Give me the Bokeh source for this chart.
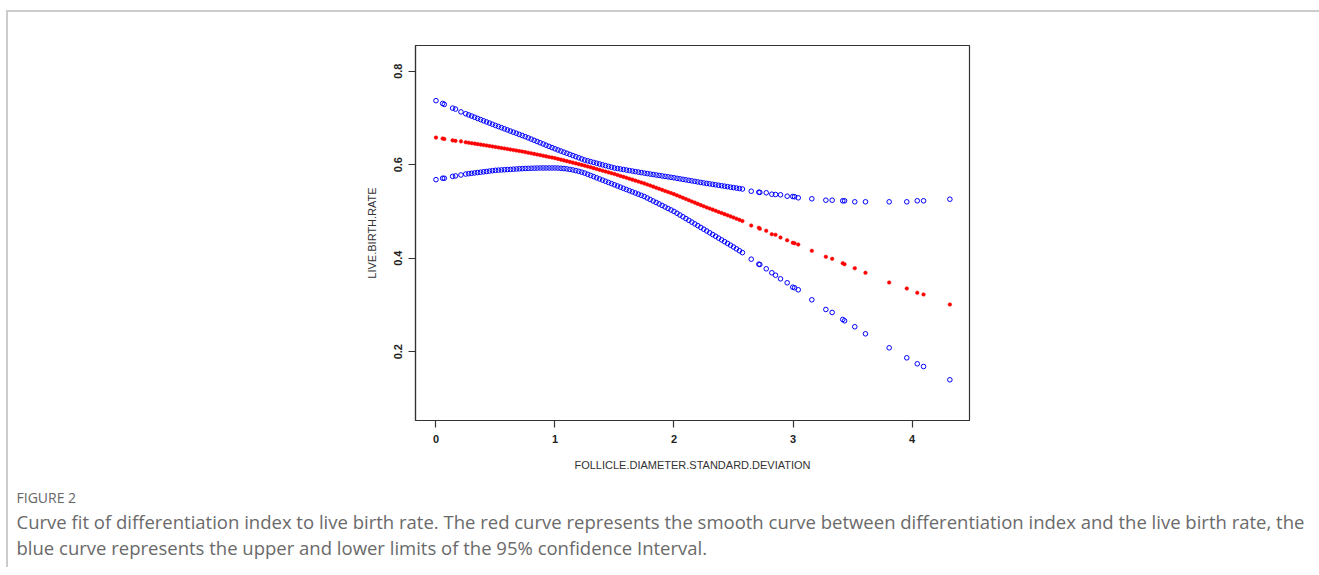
from bokeh.plotting import figure
from bokeh.models import Range1d, FixedTicker, ColumnDataSource
from bokeh.layouts import column
from bokeh.core.properties import value
from bokeh.embed import file_html
from bokeh.resources import INLINE

# ---- data ----
x_sd = [0.0, 0.056, 0.07, 0.14, 0.164, 0.21,
        0.25, 0.275, 0.3, 0.325, 0.35, 0.375, 0.4, 0.425, 0.45, 0.475,
        0.5, 0.525, 0.55, 0.575, 0.6, 0.625, 0.65, 0.675, 0.7, 0.725,
        0.75, 0.775, 0.8, 0.825, 0.85, 0.875, 0.9, 0.925, 0.95, 0.975,
        1.0, 1.025, 1.05, 1.075, 1.1, 1.125, 1.15, 1.175, 1.2, 1.225,
        1.25, 1.275, 1.3, 1.325, 1.35, 1.375, 1.4, 1.425, 1.45, 1.475,
        1.5, 1.525, 1.55, 1.575, 1.6, 1.625, 1.65, 1.675, 1.7, 1.725,
        1.75, 1.775, 1.8, 1.825, 1.85, 1.875, 1.9, 1.925, 1.95, 1.975,
        2.0, 2.025, 2.05, 2.075, 2.1, 2.125, 2.15, 2.175, 2.2, 2.225,
        2.25, 2.275, 2.3, 2.325, 2.35, 2.375, 2.4, 2.425, 2.45, 2.475,
        2.5, 2.525, 2.55, 2.575,
        2.649, 2.713, 2.721, 2.775, 2.822, 2.853, 2.895, 2.951, 2.998, 3.013,
        3.044, 3.158, 3.276, 3.329, 3.418, 3.433, 3.519, 3.609, 3.808, 3.956,
        4.044, 4.097, 4.318]

upper_ci = [0.737, 0.731, 0.729, 0.721, 0.719, 0.713,
            0.709, 0.7065, 0.704, 0.7015, 0.699, 0.6965, 0.694, 0.6915, 0.689, 0.6865,
            0.684, 0.6816, 0.6792, 0.6768, 0.6744, 0.672, 0.6696, 0.6672, 0.6648, 0.6624,
            0.660, 0.6574, 0.6548, 0.6522, 0.6496, 0.647, 0.6444, 0.6418, 0.6392, 0.6366,
            0.634, 0.6316, 0.6292, 0.6268, 0.6244, 0.622, 0.6196, 0.6172, 0.6148, 0.6124,
            0.610, 0.6083, 0.6066, 0.6049, 0.6032, 0.6015, 0.5998, 0.5981, 0.5964, 0.5947,
            0.593, 0.5919, 0.5908, 0.5897, 0.5886, 0.5875, 0.5864, 0.5853, 0.5842, 0.5831,
            0.582, 0.581, 0.580, 0.579, 0.578, 0.577, 0.576, 0.575, 0.574, 0.573,
            0.572, 0.5709, 0.5698, 0.5687, 0.5676, 0.5665, 0.5654, 0.5643, 0.5632, 0.5621,
            0.561, 0.560, 0.559, 0.558, 0.557, 0.556, 0.555, 0.554, 0.553, 0.552,
            0.551, 0.550, 0.549, 0.548,
            0.5433, 0.5412, 0.5408, 0.5399, 0.5369, 0.5363, 0.5356, 0.5326, 0.5320, 0.5315,
            0.5292, 0.5271, 0.5241, 0.5241, 0.5228, 0.5228, 0.5206, 0.5206, 0.5206, 0.5206,
            0.5228, 0.5228, 0.5262]

fit_rate = [0.658, 0.656, 0.655, 0.652, 0.651, 0.650,
            0.648, 0.647, 0.646, 0.645, 0.644, 0.643, 0.642, 0.641, 0.640, 0.639,
            0.638, 0.6369, 0.6358, 0.6347, 0.6336, 0.6325, 0.6314, 0.6303, 0.6292, 0.6281,
            0.627, 0.6257, 0.6244, 0.6231, 0.6218, 0.6205, 0.6192, 0.6179, 0.6166, 0.6153,
            0.614, 0.6124, 0.6108, 0.6092, 0.6076, 0.606, 0.6044, 0.6028, 0.6012, 0.5996,
            0.598, 0.5962, 0.5944, 0.5926, 0.5908, 0.589, 0.5872, 0.5854, 0.5836, 0.5818,
            0.580, 0.578, 0.576, 0.574, 0.572, 0.570, 0.568, 0.566, 0.564, 0.562,
            0.560, 0.5577, 0.5554, 0.5531, 0.5508, 0.5485, 0.5462, 0.5439, 0.5416, 0.5393,
            0.537, 0.5344, 0.5318, 0.5292, 0.5266, 0.524, 0.5214, 0.5188, 0.5162, 0.5136,
            0.511, 0.5086, 0.5062, 0.5038, 0.5014, 0.499, 0.4966, 0.4942, 0.4918, 0.4894,
            0.487, 0.4845, 0.482, 0.4795,
            0.4699, 0.4650, 0.4629, 0.4586, 0.4513, 0.4500, 0.4443, 0.4385, 0.4329, 0.4321,
            0.4293, 0.4158, 0.4030, 0.3987, 0.3893, 0.3872, 0.3786, 0.3688, 0.3480, 0.3352,
            0.3260, 0.3224, 0.3010]

lower_ci = [0.568, 0.571, 0.571, 0.575, 0.576, 0.578,
            0.580, 0.5808, 0.5816, 0.5824, 0.5832, 0.584, 0.5848, 0.5856, 0.5864, 0.5872,
            0.588, 0.5884, 0.5888, 0.5892, 0.5896, 0.590, 0.5904, 0.5908, 0.5912, 0.5916,
            0.592, 0.5922, 0.5924, 0.5926, 0.5928, 0.593, 0.593, 0.593, 0.593, 0.593,
            0.593, 0.5928, 0.5924, 0.5918, 0.591, 0.590, 0.5888, 0.5874, 0.5858, 0.584,
            0.582, 0.5795, 0.577, 0.5745, 0.572, 0.5695, 0.567, 0.5645, 0.562, 0.5595,
            0.557, 0.5545, 0.552, 0.5495, 0.547, 0.5445, 0.542, 0.5395, 0.537, 0.5345,
            0.532, 0.5288, 0.5256, 0.5224, 0.5192, 0.516, 0.5128, 0.5096, 0.5064, 0.5032,
            0.500, 0.4962, 0.4924, 0.4886, 0.4848, 0.481, 0.4772, 0.4734, 0.4696, 0.4658,
            0.462, 0.4582, 0.4544, 0.4506, 0.4468, 0.443, 0.4392, 0.4354, 0.4316, 0.4278,
            0.424, 0.420, 0.416, 0.412,
            0.3979, 0.3872, 0.3865, 0.3773, 0.3688, 0.3636, 0.3559, 0.3474, 0.3380, 0.3367,
            0.3324, 0.3110, 0.2903, 0.2839, 0.2689, 0.2661, 0.2533, 0.2383, 0.2083, 0.1869,
            0.1741, 0.1683, 0.1399]

x_ticks = [0, 1, 2, 3, 4]
y_ticks = [0.2, 0.4, 0.6, 0.8]
x_title = "FOLLICLE.DIAMETER.STANDARD.DEVIATION"
y_title = "LIVE.BIRTH.RATE"
fig_label = "FIGURE 2"
caption_lines = [
    "Curve fit of differentiation index to live birth rate. The red curve represents the smooth curve between differentiation index and the live birth rate, the",
    "blue curve represents the upper and lower limits of the 95% confidence Interval.",
]

assert len(x_sd) == len(upper_ci) == len(fit_rate) == len(lower_ci)

src = ColumnDataSource(dict(x=x_sd, up=upper_ci, fit=fit_rate, lo=lower_ci))

# content origin inside the light-gray page frame (page px)
OX, OY = 8, 12
PAGE_W = 1319
W = PAGE_W - OX
H1 = 475 - OY          # main chart height
H2 = 92                # caption strip height
# plot frame edges, page px
PL, PR, PT, PB = 415, 969, 45, 420
X0, X1 = -0.172, 4.483
Y0, Y1 = 0.0528, 0.855

p = figure(width=W, height=H1, output_backend="svg", toolbar_location=None,
           x_range=Range1d(X0, X1), y_range=Range1d(Y0, Y1),
           min_border_left=PL - OX, min_border_right=W - (PR - OX),
           min_border_top=PT - OY, min_border_bottom=H1 - (PB - OY))
p.background_fill_color = "white"
p.border_fill_color = "white"
p.xgrid.visible = False
p.ygrid.visible = False
p.outline_line_color = "#333333"
p.outline_line_width = 1.2

for ax in (p.xaxis[0], p.yaxis[0]):
    ax.axis_line_color = "#333333"
    ax.axis_line_width = 1.2
    ax.major_tick_line_color = "#333333"
    ax.major_tick_line_width = 1.2
    ax.major_tick_out = 7
    ax.major_tick_in = 0
    ax.minor_tick_line_color = None
    ax.major_label_text_font = "Liberation Sans"
    ax.major_label_text_font_size = "11px"
    ax.major_label_text_font_style = "bold"
    ax.major_label_text_color = "#222222"
    ax.axis_label_text_font = "Liberation Sans"
    ax.axis_label_text_font_size = "11px"
    ax.axis_label_text_font_style = "normal"
    ax.axis_label_text_color = "#333333"

p.xaxis.ticker = FixedTicker(ticks=x_ticks)
p.yaxis.ticker = FixedTicker(ticks=y_ticks)
p.xaxis.major_label_overrides = {t: str(t) for t in x_ticks}
p.yaxis.major_label_overrides = {t: f"{t:.1f}" for t in y_ticks}
p.yaxis.major_label_orientation = "vertical"
p.xaxis.major_label_standoff = 7
p.yaxis.major_label_standoff = 6
p.xaxis.axis_label = x_title
p.yaxis.axis_label = y_title
p.xaxis.axis_label_standoff = 13
p.yaxis.axis_label_standoff = 14

p.scatter("x", "up", source=src, marker="circle", size=4.6, fill_color=None,
          line_color="blue", line_width=1)
p.scatter("x", "lo", source=src, marker="circle", size=4.6, fill_color=None,
          line_color="blue", line_width=1)
p.scatter("x", "fit", source=src, marker="circle", size=3.6, fill_color="red",
          line_color="red", line_width=0.5)

# caption strip: a plain canvas whose data units are page pixels (y downward)
cap = figure(width=W, height=H2, output_backend="svg", toolbar_location=None,
             x_range=Range1d(OX, OX + W), y_range=Range1d(475 + H2, 475),
             x_axis_type=None, y_axis_type=None,
             min_border=0, min_border_left=0, min_border_right=0,
             min_border_top=0, min_border_bottom=0)
cap.outline_line_color = None
cap.xgrid.visible = False
cap.ygrid.visible = False
cap.background_fill_color = "white"
cap.border_fill_color = "white"

for fig in (p, cap):
    try:
        fig.frame_align = False
    except Exception:
        pass

cap_font = value("Open Sans")
cap.text(x=[16], y=[497], text=[fig_label], text_font=cap_font,
         text_font_size="14px", text_color="#666666", text_baseline="middle")
cap.text(x=[16, 16], y=[521, 547], text=caption_lines, text_font=cap_font,
         text_font_size="18.5px", text_color="#6a6a6a", text_baseline="middle")

root = column(p, cap, spacing=0,
              styles={"margin-left": "6px", "margin-top": "10px",
                      "border-left": "2px solid #cccccc",
                      "border-top": "2px solid #cccccc"})

open("out.html", "w").write(file_html(root, INLINE))
